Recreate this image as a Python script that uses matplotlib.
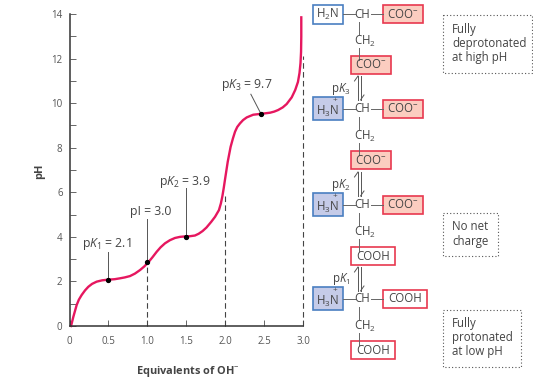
import matplotlib
matplotlib.use('Agg')
import matplotlib.pyplot as plt
from matplotlib.patches import Rectangle

plt.rcParams['font.family'] = ['Open Sans', 'DejaVu Sans']
plt.rcParams['mathtext.fontset'] = 'custom'
plt.rcParams['mathtext.rm'] = 'Open Sans'
plt.rcParams['mathtext.it'] = 'Open Sans:italic'
plt.rcParams['mathtext.bf'] = 'Open Sans:bold'

# titration curve
equiv = [0.02, 0.05, 0.092, 0.12, 0.156, 0.2, 0.242, 0.29, 0.349, 0.42, 0.5, 0.58, 0.649, 0.71, 0.777, 0.84, 0.906,
         0.96, 1.013, 1.065, 1.12, 1.17, 1.227, 1.29, 1.355, 1.42, 1.484, 1.55, 1.612, 1.66, 1.71, 1.76, 1.82, 1.87,
         1.92, 1.945, 1.964, 1.982, 2.0, 2.033, 2.07, 2.1, 2.127, 2.155, 2.19, 2.23, 2.277, 2.36, 2.46, 2.576, 2.63,
         2.68, 2.74, 2.79, 2.855, 2.9, 2.935, 2.955, 2.968, 2.975, 2.978, 2.978]
ph = [0.0, 0.42, 0.94, 1.18, 1.39, 1.6, 1.76, 1.89, 1.99, 2.05, 2.08, 2.1, 2.14, 2.18, 2.24, 2.35, 2.51,
      2.67, 2.86, 3.08, 3.33, 3.53, 3.71, 3.85, 3.95, 4.0, 4.02, 4.03, 4.06, 4.14, 4.26, 4.42, 4.67, 4.9,
      5.2, 5.5, 5.82, 6.2, 6.62, 7.37, 8.04, 8.42, 8.72, 8.93, 9.09, 9.24, 9.36, 9.48, 9.52, 9.57, 9.62,
      9.69, 9.81, 9.96, 10.26, 10.59, 10.95, 11.35, 11.8, 12.3, 13.0, 13.85]

dots_x = [0.5, 1.0, 1.5, 2.46]
dots_y = [2.08, 2.85, 4.0, 9.52]
dash_x = [1.0, 2.0, 3.0]
dash_top = [2.85, 5.85, 12.1]
x_ticks = [0, 0.5, 1.0, 1.5, 2.0, 2.5, 3.0]
x_labels = ['0', '0.5', '1.0', '1.5', '2.0', '2.5', '3.0']
y_ticks = list(range(0, 15))
y_labels = ['0', '', '2', '', '4', '', '6', '', '8', '', '10', '', '12', '', '14']

W, H = 533, 381
GRAY = '#444444'
PINK = '#e6175f'
BLUE_E, BLUE_F = '#4a7fc1', '#c5cbe8'
RED_E, RED_F = '#e8384f', '#fbcdc0'

fig = plt.figure(figsize=(W / 100, H / 100), dpi=100)
ax = fig.add_axes([69.5 / W, 1 - 326 / H, 233.5 / W, 312 / H])
ax.set_xlim(0, 3)
ax.set_ylim(0, 14)
ax.spines['top'].set_visible(False)
ax.spines['right'].set_visible(False)
ax.spines['left'].set_linewidth(1.1)
ax.spines['bottom'].set_linewidth(1.1)
ax.spines['left'].set_color('#333333')
ax.spines['bottom'].set_color('#333333')
ax.set_xticks(x_ticks)
ax.set_xticklabels(x_labels)
ax.set_yticks(y_ticks)
ax.set_yticklabels(y_labels)
ax.tick_params(direction='in', length=4, width=0.7, color='#666666', labelsize=7, labelcolor='#555555')
ax.tick_params(axis='x', pad=7)
ax.tick_params(axis='y', pad=5)
ax.patch.set_alpha(0)

ax.vlines(dash_x, 0, dash_top, color='#444444', lw=0.8, linestyles=(0, (5, 3)), clip_on=False)
ax.plot(equiv, ph, color=PINK, lw=1.7, solid_joinstyle='round', clip_on=False)
ax.plot(dots_x, dots_y, 'o', color='black', ms=2.8, clip_on=False, zorder=5)

# leaders to the pK labels
ax.plot([0.5, 0.5], [2.08, 3.33], color='#555555', lw=0.7)
ax.plot([1.0, 1.0], [2.85, 4.8], color='#555555', lw=0.7)
ax.plot([1.5, 1.5], [4.0, 6.2], color='#555555', lw=0.7)
ax.plot([2.46, 2.33], [9.52, 10.4], color='#555555', lw=0.7)

ax.set_xlabel('Equivalents of OH$^{-}$', fontsize=7.9, fontweight='bold', color=GRAY)
ax.xaxis.set_label_coords(0.507, -0.122)
ax.set_ylabel('pH', fontsize=7.9, fontweight='bold', color=GRAY)
ax.yaxis.set_label_coords(-0.105, 0.495)

# overlay in pixel units for the structures
ov = fig.add_axes([0, 0, 1, 1])
ov.set_xlim(0, W)
ov.set_ylim(H, 0)
ov.axis('off')
ov.patch.set_alpha(0)


def label(x, y, s, size=8.3, ha='center', **kw):
    ov.text(x, y, s, fontsize=size, color=GRAY, ha=ha, va='center', **kw)


def box(x0, y0, x1, y1, edge, fill):
    ov.add_patch(Rectangle((x0, y0), x1 - x0, y1 - y0, fc=fill, ec=edge, lw=1.2, zorder=2))


def seg(x0, y0, x1, y1):
    ov.plot([x0, x1], [y0, y1], color='#666666', lw=0.7, zorder=3)


def row(y, charged, acid, side, acid_filled, side_filled):
    if charged:
        box(313, y - 12, 343, y + 11, BLUE_E, BLUE_F)
        label(328, y + 2.5, 'H$_3$N', zorder=4)
        label(334.5, y - 8.5, '+', size=6, zorder=4)
    else:
        box(313, y - 9, 343, y + 10, BLUE_E, 'white')
        label(328, y, 'H$_2$N', zorder=4)
    seg(343, y, 355, y)
    label(362.5, y, 'CH', zorder=4)
    seg(371, y, 383, y)
    x1 = 423 if acid_filled else 427
    box(383, y - 9, x1, y + 9, RED_E, RED_F if acid_filled else 'white')
    label((383 + x1) / 2, y, acid, zorder=4)
    seg(359, y + 8, 359, y + 20)
    label(365, y + 27, 'CH$_2$', zorder=4)
    seg(359, y + 34, 359, y + 46)
    x2 = 391 if side_filled else 395
    box(351, y + 42, x2, y + 60, RED_E, RED_F if side_filled else 'white')
    label((351 + x2) / 2, y + 51, side, zorder=4)


COO = 'COO$^{-}$'
row(14, False, COO, COO, True, True)
row(109, True, COO, COO, True, True)
row(205, True, COO, 'COOH', True, False)
row(299, True, 'COOH', 'COOH', False, False)

# equilibrium arrows between the rows
for top, name, ly in [(76, 'p$\\mathit{K}_3$', 89), (172, 'p$\\mathit{K}_2$', 185), (267, 'p$\\mathit{K}_1$', 279)]:
    ov.plot([358, 358], [top, top + 24], color='#555555', lw=0.7)
    ov.plot([360.5, 360.5], [top, top + 24], color='#555555', lw=0.7)
    ov.plot([358, 354.5], [top, top + 5], color='#555555', lw=0.7)
    ov.plot([360.5, 364], [top + 24, top + 19], color='#555555', lw=0.7)
    label(341, ly, name, zorder=4)

# curve labels
label(107, 244, 'p$\\mathit{K}_1$ = 2.1', size=8.8)
label(151, 211, 'pI = 3.0', size=8.8)
label(185, 182, 'p$\\mathit{K}_2$ = 3.9', size=8.8)
label(247, 85, 'p$\\mathit{K}_3$ = 9.7', size=8.8)

# dotted note boxes
for x0, y0, x1, y1, lines in [(443, 15, 532, 73, ['Fully', 'deprotonated', 'at high pH']),
                              (443, 213, 498, 256, ['No net', 'charge']),
                              (443, 310, 521, 367, ['Fully', 'protonated', 'at low pH'])]:
    ov.add_patch(Rectangle((x0, y0), x1 - x0, y1 - y0, fc='none', ec='#555555', lw=0.8, ls=(0, (1, 2))))
    for i, s in enumerate(lines):
        label(452, y0 + 14 + i * 14, s, ha='left')

fig.savefig('out.png', dpi=100)
